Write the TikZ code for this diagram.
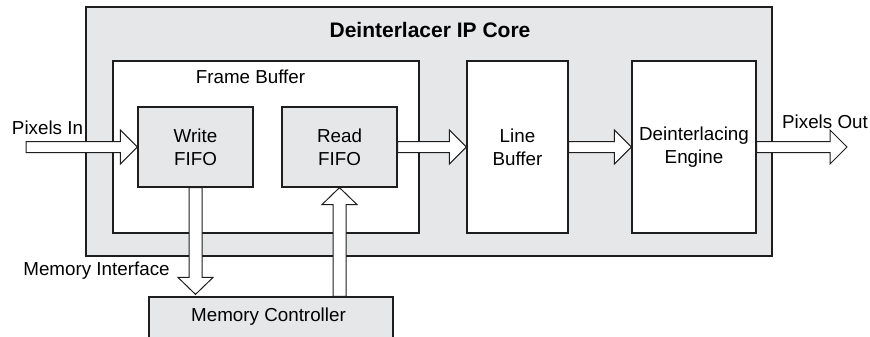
\documentclass[tikz,border=0pt]{standalone}
\usepackage{fontspec}
\setmainfont{Liberation Sans}
\usetikzlibrary{calc}
\definecolor{boxgray}{RGB}{230,231,233}
\definecolor{edge}{RGB}{30,30,30}
\begin{document}
\begin{tikzpicture}[x=1pt,y=-1pt,
  lbl/.style={font=\fontsize{18.8}{23}\selectfont, align=center, inner sep=0pt},
  blk/.style={draw=edge, line width=1.2pt, inner sep=0pt, font=\fontsize{18.8}{23}\selectfont, align=center},
  graybox/.style={blk, fill=boxgray},
  whitebox/.style={blk, fill=white},
  barrow/.style={draw=edge, fill=white, line width=1pt, line join=miter}]
\clip (0,0) rectangle (870,337);
% boxes
\node[graybox, minimum width=686pt, minimum height=249pt] (core) at (429,131.5) {};
\node[font=\bfseries\fontsize{21}{24}\selectfont, inner sep=0pt] (title) at (430,30) {Deinterlacer IP Core};
\node[whitebox, minimum width=306pt, minimum height=172pt] (fb) at (266,147) {};
\node[lbl] (fbl) at (250.5,77) {Frame Buffer};
\node[graybox, minimum width=115pt, minimum height=80pt] (wf) at (195.5,147) {Write\\FIFO};
\node[graybox, minimum width=115pt, minimum height=80pt] (rf) at (339.5,147) {Read\\FIFO};
\node[whitebox, minimum width=101pt, minimum height=172pt] (lb) at (517.5,147) {Line\\Buffer};
\node[whitebox, minimum width=124pt, minimum height=172pt] (en) at (694,147) {Deinterlacing\\Engine};
\node[graybox, minimum width=244pt, minimum height=63pt] (mc) at (271,328.5) {};
\node[lbl] (mcl) at (268.5,316.5) {Memory Controller};
% free ends
\coordinate (pin) at (26,147);
\coordinate (pout) at (847,147);
% labels
\node[lbl] (pinl) at (47.5,127.5) {Pixels In};
\node[lbl] (poutl) at (825,121.5) {Pixels Out};
\node[lbl] (mil) at (96.5,270.5) {Memory Interface};
% horizontal block arrows
\newcommand\harrow[2]{\draw[barrow] let \p1=(#1), \p2=(#2) in
  (\x1,\y1-5.5pt) -- (\x2-17pt,\y1-5.5pt) -- (\x2-17pt,\y1-17pt) -- (\x2,\y1)
  -- (\x2-17pt,\y1+17pt) -- (\x2-17pt,\y1+5.5pt) -- (\x1,\y1+5.5pt) -- cycle;}
\harrow{pin}{wf.west}
\harrow{rf.east}{lb.west}
\harrow{lb.east}{en.west}
\harrow{en.east}{pout}
% vertical block arrows
\draw[barrow] let \p1=(wf.south), \p2=(mc.north) in
  (\x1-6.5pt,\y1) -- (\x1-6.5pt,\y2+19pt) -- (\x1-17.5pt,\y2+19pt) -- (\x1,\y2+2pt)
  -- (\x1+17.5pt,\y2+19pt) -- (\x1+6.5pt,\y2+19pt) -- (\x1+6.5pt,\y1) -- cycle;
\draw[barrow] let \p1=(mc.north), \p2=(rf.south) in
  (\x2-6.5pt,\y1) -- (\x2-6.5pt,\y2-17pt) -- (\x2-17.5pt,\y2-17pt) -- (\x2,\y2)
  -- (\x2+17.5pt,\y2-17pt) -- (\x2+6.5pt,\y2-17pt) -- (\x2+6.5pt,\y1) -- cycle;
\end{tikzpicture}
\end{document}
